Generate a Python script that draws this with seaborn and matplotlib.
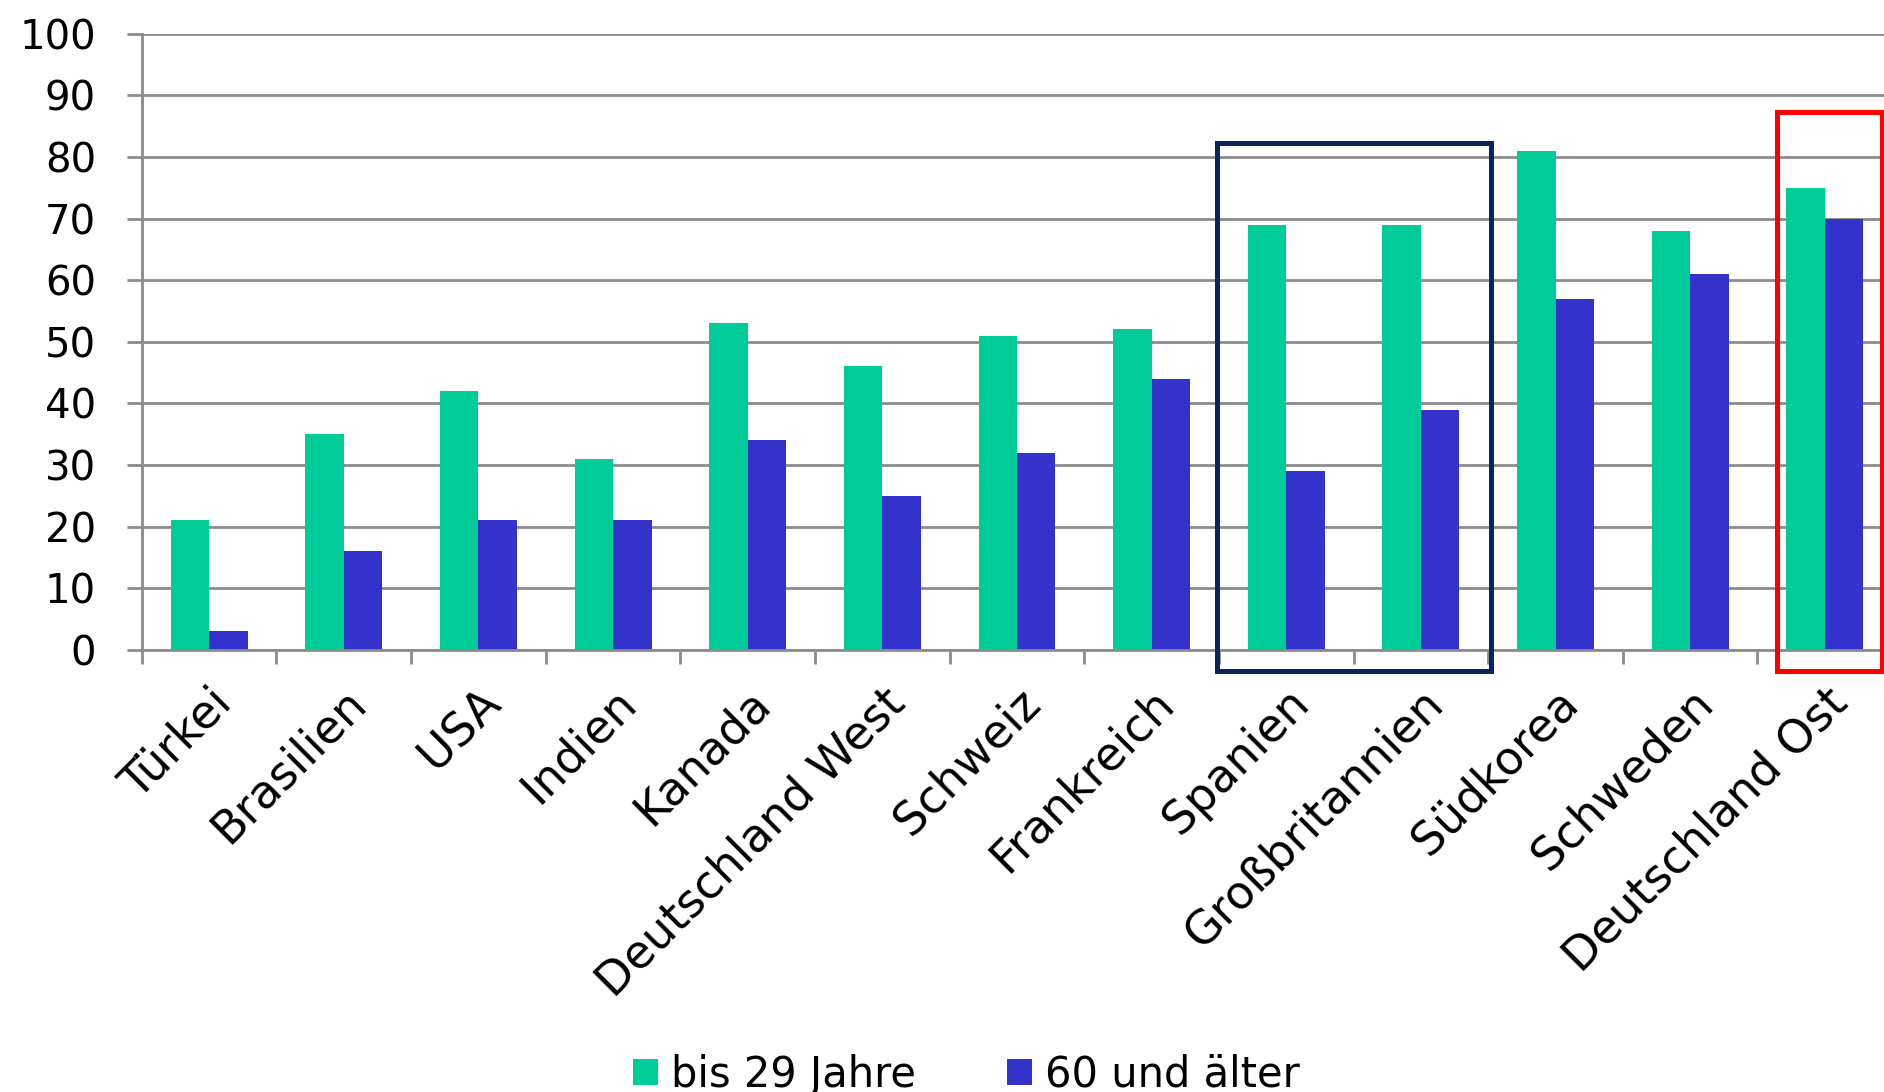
import numpy as np
import pandas as pd
import matplotlib
matplotlib.use("Agg")
import matplotlib.pyplot as plt
from matplotlib.patches import Rectangle
from matplotlib.ticker import FixedLocator
import seaborn as sns

# data
laender = ["Türkei", "Brasilien", "USA", "Indien", "Kanada", "Deutschland West",
           "Schweiz", "Frankreich", "Spanien", "Großbritannien", "Südkorea",
           "Schweden", "Deutschland Ost"]
bis_29 = [21, 35, 42, 31, 53, 46, 51, 52, 69, 69, 81, 68, 75]
ab_60 = [3, 16, 21, 21, 34, 25, 32, 44, 29, 39, 57, 61, 70]
gruppen = ["bis 29 Jahre", "60 und älter"]
farben = ["#00CC99", "#3333CC"]

df = pd.DataFrame({"Land": laender * 2,
                   "Gruppe": [gruppen[0]] * len(laender) + [gruppen[1]] * len(laender),
                   "Wert": bis_29 + ab_60})

sns.set_style("white")
plt.rcParams['font.family'] = ['DejaVu Sans']
plt.rcParams['text.color'] = 'black'
plt.rcParams['xtick.labelcolor'] = 'black'
plt.rcParams['ytick.labelcolor'] = 'black'

fig = plt.figure(figsize=(18.84, 10.92), dpi=100)
ax = fig.add_axes([0.0753, 0.405, 0.929, 0.564])

sns.barplot(data=df, x="Land", y="Wert", hue="Gruppe", palette=farben,
            width=0.571, saturation=1, linewidth=0, ax=ax, legend=True)

ax.set_ylim(0, 100)
ax.set_xlim(-0.5, len(laender) - 0.5)
ax.set_yticks(range(0, 101, 10))
ax.yaxis.grid(True, color="#8c8c8c", linewidth=2)
ax.set_axisbelow(True)
ax.set_xlabel("")
ax.set_ylabel("")
for s in ["top", "right"]:
    ax.spines[s].set_visible(False)
for s in ["left", "bottom"]:
    ax.spines[s].set_color("#8c8c8c")
    ax.spines[s].set_linewidth(2)

ax.tick_params(axis="y", which="major", left=True, length=11, width=2,
               color="#8c8c8c", labelsize=29, pad=22, labelcolor="black")
ax.xaxis.set_minor_locator(FixedLocator(np.arange(-0.5, len(laender), 1.0)))
ax.tick_params(axis="x", which="minor", bottom=True, length=10, width=2, color="#8c8c8c")
ax.tick_params(axis="x", which="major", bottom=False, length=0, pad=22, labelcolor="black")
ax.set_xticks(range(len(laender)))
ax.set_xticklabels(laender, rotation=45, ha="right", rotation_mode="anchor",
                   fontsize=33)

# highlight boxes
ax.add_patch(Rectangle((7.482, -3.5), 2.036, 85.8, fill=False, edgecolor="#0B2361",
                       linewidth=3.6, clip_on=False, zorder=5))
ax.add_patch(Rectangle((11.643, -3.5), 0.78, 90.8, fill=False, edgecolor="#FF0000",
                       linewidth=3.6, clip_on=False, zorder=5))

handles, labels = ax.get_legend_handles_labels()
ax.legend_.remove()
fig.legend(handles, labels, loc="center", bbox_to_anchor=(0.513, 0.016), ncol=2,
           frameon=False, fontsize=30, handlelength=0.6, handleheight=0.6,
           handletextpad=0.3, columnspacing=2.2, labelcolor="black")

fig.savefig("out.png", dpi=100)
